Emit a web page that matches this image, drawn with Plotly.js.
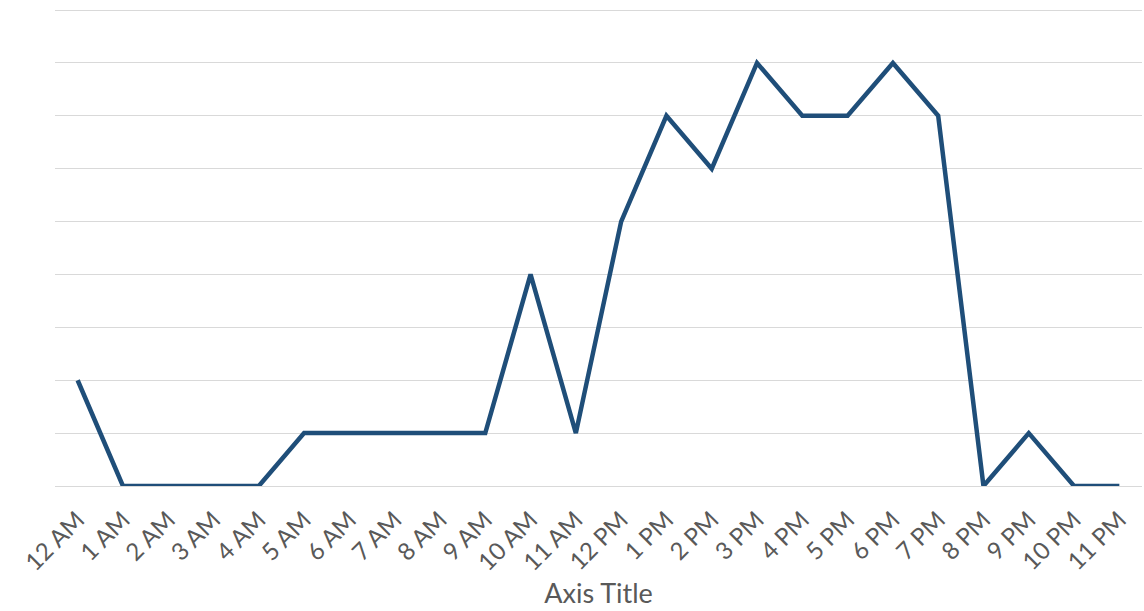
<!DOCTYPE html>
<html>
<head>
<meta charset="utf-8">
<script src="https://cdn.plot.ly/plotly-3.0.1.min.js"></script>
<style>
  html, body { margin: 0; padding: 0; background: #fff; }
  #chart { width: 1144px; height: 611px; }
</style>
</head>
<body>
<div id="chart"></div>
<script>
// Hour-of-day categories and the hourly counts plotted against them
const hours = ["12 AM", "1 AM", "2 AM", "3 AM", "4 AM", "5 AM", "6 AM", "7 AM",
  "8 AM", "9 AM", "10 AM", "11 AM", "12 PM", "1 PM", "2 PM", "3 PM",
  "4 PM", "5 PM", "6 PM", "7 PM", "8 PM", "9 PM", "10 PM", "11 PM"];
const counts = [2, 0, 0, 0, 0, 1, 1, 1, 1, 1, 4, 1, 5, 7, 6, 8, 7, 7, 8, 7, 0, 1, 0, 0];

const trace = {
  x: hours,
  y: counts,
  type: "scatter",
  mode: "lines",
  line: { color: "#1f4e79", width: 4.5 },
  hoverinfo: "x+y"
};

const layout = {
  width: 1144,
  height: 611,
  margin: { l: 55, r: 2, t: 9, b: 125 },
  paper_bgcolor: "#ffffff",
  plot_bgcolor: "#ffffff",
  showlegend: false,
  font: { family: "Lato, 'Open Sans', sans-serif", color: "#595959" },
  xaxis: {
    type: "category",
    range: [-0.5, hours.length - 0.5],
    tickangle: -45,
    tickfont: { size: 24, color: "#595959" },
    ticklabelstandoff: 14,
    showgrid: false,
    showline: false,
    ticks: "",
    ticklen: 0,
    title: { text: "Axis Title", font: { size: 27, color: "#595959" }, standoff: 6 }
  },
  yaxis: {
    range: [0, 9.02],
    tickvals: [0, 1, 2, 3, 4, 5, 6, 7, 8, 9],
    showticklabels: false,
    gridcolor: "#d9d9d9",
    gridwidth: 1,
    zeroline: true,
    zerolinecolor: "#d9d9d9",
    zerolinewidth: 1,
    showline: false,
    ticks: ""
  }
};

Plotly.newPlot("chart", [trace], layout, { displayModeBar: false, staticPlot: true });
</script>
</body>
</html>
